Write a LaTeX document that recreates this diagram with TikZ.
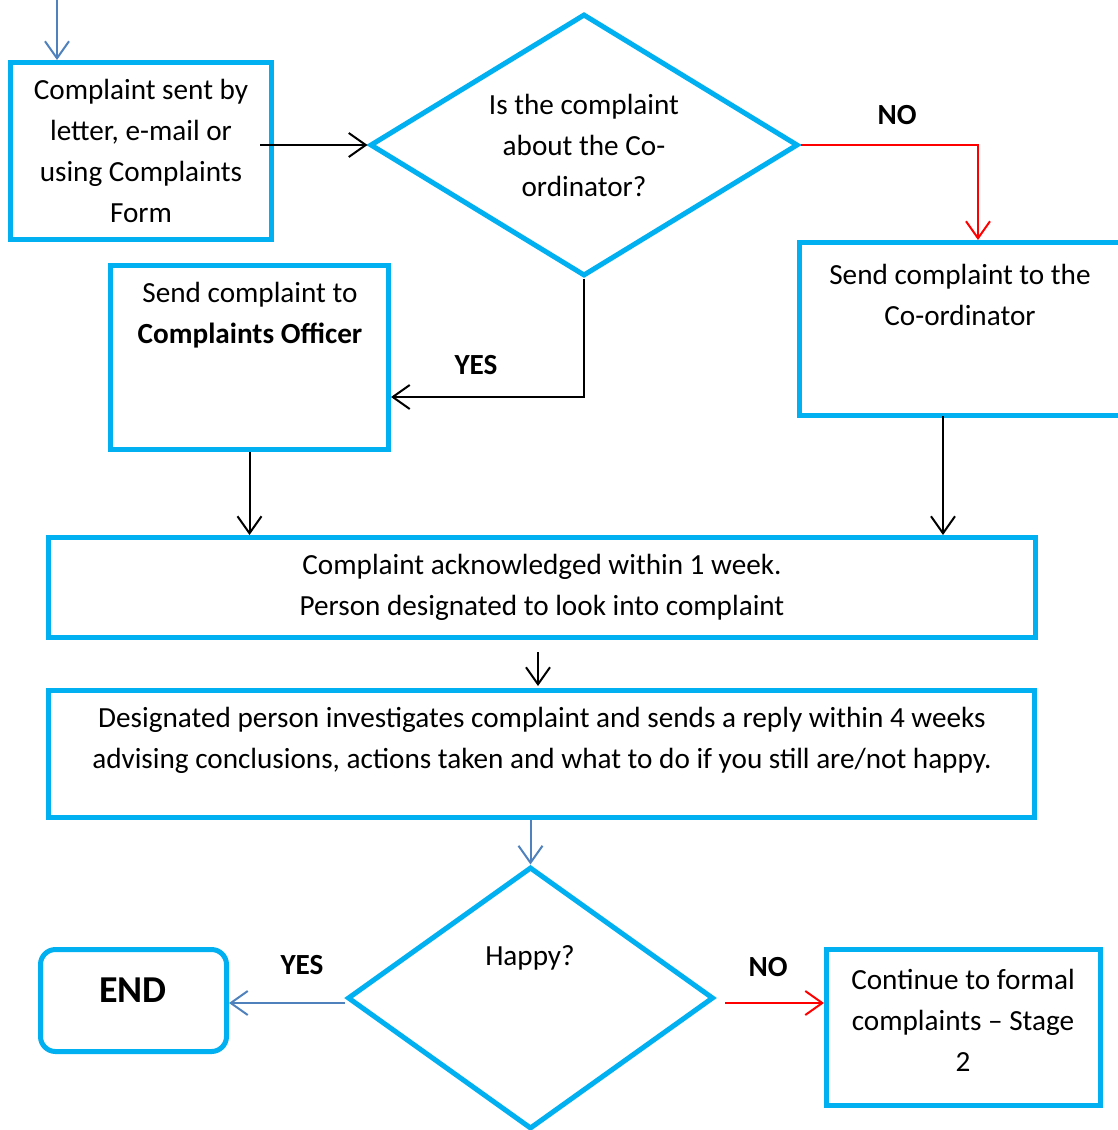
\documentclass[tikz,border=0pt]{standalone}
\usepackage{fontspec}
\setmainfont{Carlito}
\usetikzlibrary{arrows.meta,shapes.geometric}
\definecolor{boxcyan}{HTML}{00B0F0}
\definecolor{flowblue}{HTML}{4F81BD}
\definecolor{flowred}{HTML}{FF0000}

\begin{document}
\begin{tikzpicture}[x=1pt,y=-1pt,
  >={Straight Barb[length=17pt,width=24pt]},
  box/.style={draw=boxcyan,line width=5pt,inner sep=0pt,align=center,
    font=\fontsize{29.2}{41}\selectfont},
  decision/.style={box,shape=diamond,aspect=1.6},
  txt/.style={align=center,inner sep=0pt,font=\fontsize{29.2}{41}\selectfont},
  lbl/.style={inner sep=0pt,font=\fontsize{29.2}{41}\selectfont\bfseries},
  flow/.style={line width=2pt,->}]

\useasboundingbox (0,0) rectangle (1117,1130);

% first row
\node[box,minimum width=261pt,minimum height=177pt] (form) at (141,151)
  {Complaint sent by\\letter, e-mail or\\using Complaints\\Form};
\node[decision,minimum width=428pt,minimum height=262pt] (coordq) at (584,145) {};
\node[txt] (coordqtxt) at (584,145) {Is the complaint\\about the Co-\\ordinator?};

% second row
\node[box,minimum width=278pt,minimum height=184pt] (officer) at (249.5,357.5) {};
\node[txt] (officertxt) at (250,315.5) {Send complaint to\\\textbf{Complaints Officer}};
\node[box,minimum width=330pt,minimum height=173pt] (coord) at (964.5,329) {};
\node[txt] (coordtxt) at (960,294.5) {Send complaint to the\\Co-ordinator};

% acknowledge and investigate
\node[box,minimum width=987pt,minimum height=100pt] (ack) at (542,587.5)
  {Complaint acknowledged within 1 week.\\Person designated to look into complaint};
\node[box,minimum width=986pt,minimum height=127pt] (invest) at (541.5,754) {};
\node[txt] (investtxt) at (542,740.5)
  {Designated person investigates complaint and sends a reply within 4 weeks\\advising conclusions, actions taken and what to do if you still are/not happy.};

% last row
\node[decision,minimum width=366pt,minimum height=262pt] (happy) at (530.5,998) {};
\node[txt] (happytxt) at (530,958) {Happy?};
\node[box,rounded corners=15pt,minimum width=186pt,minimum height=102pt] (finish) at (133.5,1000.5) {};
\node[txt,font=\fontsize{38}{44}\selectfont\bfseries] (finishtxt) at (133,990) {END};
\node[box,minimum width=274pt,minimum height=156pt] (stage) at (963.5,1027.5) {};
\node[txt] (stagetxt) at (963,1020) {Continue to formal\\complaints -- Stage\\2};

% points where connectors start or bend
\coordinate (start) at (57,0);
\coordinate (formout) at (260,145);
\coordinate (nobend) at (978,145);
\coordinate (yesbend) at (584,397);
\coordinate (coordout) at (943,416);
\coordinate (ackout) at (538,652);
\coordinate (happyno) at (725,1003);
\coordinate (happyyes) at (345,1003);

\draw[flow,flowblue] (start) -- (start |- form.north);
\draw[flow] (formout) -- (coordq.west);
\draw[flow,flowred] (coordq.east) -- (nobend) -- (nobend |- coord.north);
\node[lbl] (notop) at (897,115) {NO};
\draw[flow] (coordq.south) -- (yesbend) -- (yesbend -| officer.east);
\node[lbl] (yestop) at (476,365) {YES};
\draw[flow] (officer.south) -- (officer.south |- ack.north);
\draw[flow] (coordout) -- (coordout |- ack.north);
\draw[flow] (ackout) -- ([yshift=2pt]ackout |- invest.north);
\draw[flow,flowblue] (happy.north |- invest.south) -- (happy.north);
\draw[flow,flowblue] (happyyes) -- (happyyes -| finish.east);
\node[lbl] (yesbottom) at (302,965) {YES};
\draw[flow,flowred] (happyno) -- (happyno -| stage.west);
\node[lbl] (nobottom) at (768,967) {NO};
\end{tikzpicture}
\end{document}
